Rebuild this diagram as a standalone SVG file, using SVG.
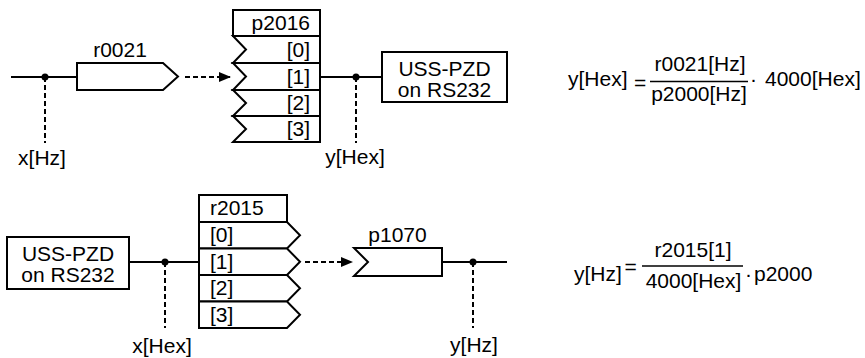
<svg xmlns="http://www.w3.org/2000/svg" width="865" height="358" viewBox="0 0 865 358">
<style>
text{font-family:"Liberation Sans",Arial,sans-serif;font-size:21px;fill:#000}
.blk{fill:#fff;stroke:#000;stroke-width:2}
.ln{fill:none;stroke:#000;stroke-width:2}
.bar{fill:none;stroke:#000;stroke-width:1.3}
.dash{fill:none;stroke:#000;stroke-width:2;stroke-dasharray:5 3}
.mid{text-anchor:middle}
.end{text-anchor:end}
</style>
<defs>
<marker id="arr" viewBox="0 0 12 10" refX="12" refY="5" markerWidth="12" markerHeight="10" markerUnits="userSpaceOnUse" orient="auto">
<path d="M0,0 L12,5 L0,10 z" fill="#000"/>
</marker>
</defs>
<g id="connectors">
<line class="ln" x1="11" y1="77" x2="77" y2="77"/>
<circle cx="45" cy="77" r="3.5"/>
<line class="dash" x1="45" y1="77" x2="45" y2="143"/>
<line class="dash" x1="185" y1="77" x2="231" y2="77" marker-end="url(#arr)"/>
<line class="ln" x1="320" y1="77" x2="382" y2="77"/>
<circle cx="356" cy="77" r="3.5"/>
<line class="dash" x1="356" y1="77" x2="356" y2="143"/>
<line class="ln" x1="129" y1="262" x2="199" y2="262"/>
<circle cx="165" cy="262" r="3.5"/>
<line class="dash" x1="165" y1="262" x2="165" y2="328"/>
<line class="dash" x1="305" y1="262" x2="353" y2="262" marker-end="url(#arr)"/>
<line class="ln" x1="442" y1="262" x2="507" y2="262"/>
<circle cx="473" cy="262" r="3.5"/>
<line class="dash" x1="473" y1="262" x2="473" y2="328"/>
</g>
<g id="r0021">
<polygon class="blk" points="77,63 163,63 178,76.5 163,90 77,90"/>
<text class="mid" x="120" y="57">r0021</text>
</g>
<g id="p2016">
<rect class="blk" x="233" y="10" width="87" height="26"/>
<text class="end" x="310" y="30">p2016</text>
<polygon class="blk" points="233,36 320,36 320,63 233,63 246,49.5"/>
<polygon class="blk" points="233,63 320,63 320,90 233,90 246,76.5"/>
<polygon class="blk" points="233,90 320,90 320,116 233,116 246,103"/>
<polygon class="blk" points="233,116 320,116 320,142 233,142 246,129"/>
<text class="end" x="310" y="57">[0]</text>
<text class="end" x="310" y="84">[1]</text>
<text class="end" x="310" y="110">[2]</text>
<text class="end" x="310" y="136">[3]</text>
</g>
<g id="uss1">
<rect class="blk" x="382" y="52" width="125" height="50"/>
<text class="mid" x="444.5" y="76">USS-PZD</text>
<text class="mid" x="444.5" y="97">on RS232</text>
</g>
<g id="label-xHz"><text class="mid" x="42" y="165">x[Hz]</text></g>
<g id="label-yHex"><text class="mid" x="355" y="164">y[Hex]</text></g>
<g id="formula1">
<text x="568" y="86">y[Hex]</text>
<text x="634" y="89.5">=</text>
<text class="mid" x="700" y="71">r0021[Hz]</text>
<line class="bar" x1="650" y1="81.5" x2="748" y2="81.5"/>
<text class="mid" x="699" y="101">p2000[Hz]</text>
<text x="750" y="86">·</text>
<text x="765" y="86">4000[Hex]</text>
</g>
<g id="uss2">
<rect class="blk" x="7" y="237" width="122" height="52"/>
<text class="mid" x="68" y="261">USS-PZD</text>
<text class="mid" x="68" y="282">on RS232</text>
</g>
<g id="r2015">
<rect class="blk" x="199" y="195" width="88" height="27"/>
<text x="210" y="215">r2015</text>
<polygon class="blk" points="199,222 287,222 300,235.25 287,248.5 199,248.5"/>
<polygon class="blk" points="199,248.5 287,248.5 300,261.75 287,275 199,275"/>
<polygon class="blk" points="199,275 287,275 300,288.25 287,301.5 199,301.5"/>
<polygon class="blk" points="199,301.5 287,301.5 300,314.75 287,328 199,328"/>
<text x="210" y="242">[0]</text>
<text x="210" y="269">[1]</text>
<text x="210" y="295">[2]</text>
<text x="210" y="322">[3]</text>
</g>
<g id="p1070">
<polygon class="blk" points="354,248 442,248 442,276 354,276 368,262"/>
<text class="mid" x="397.5" y="242">p1070</text>
</g>
<g id="label-xHex"><text class="mid" x="162" y="353">x[Hex]</text></g>
<g id="label-yHz"><text class="mid" x="474" y="352">y[Hz]</text></g>
<g id="formula2">
<text x="574" y="281">y[Hz]</text>
<text x="624.5" y="274">=</text>
<text class="mid" x="693" y="257">r2015[1]</text>
<line class="bar" x1="642" y1="266" x2="743" y2="266"/>
<text class="mid" x="693.5" y="288">4000[Hex]</text>
<text x="745" y="281">·</text>
<text x="754" y="281">p2000</text>
</g>
</svg>
